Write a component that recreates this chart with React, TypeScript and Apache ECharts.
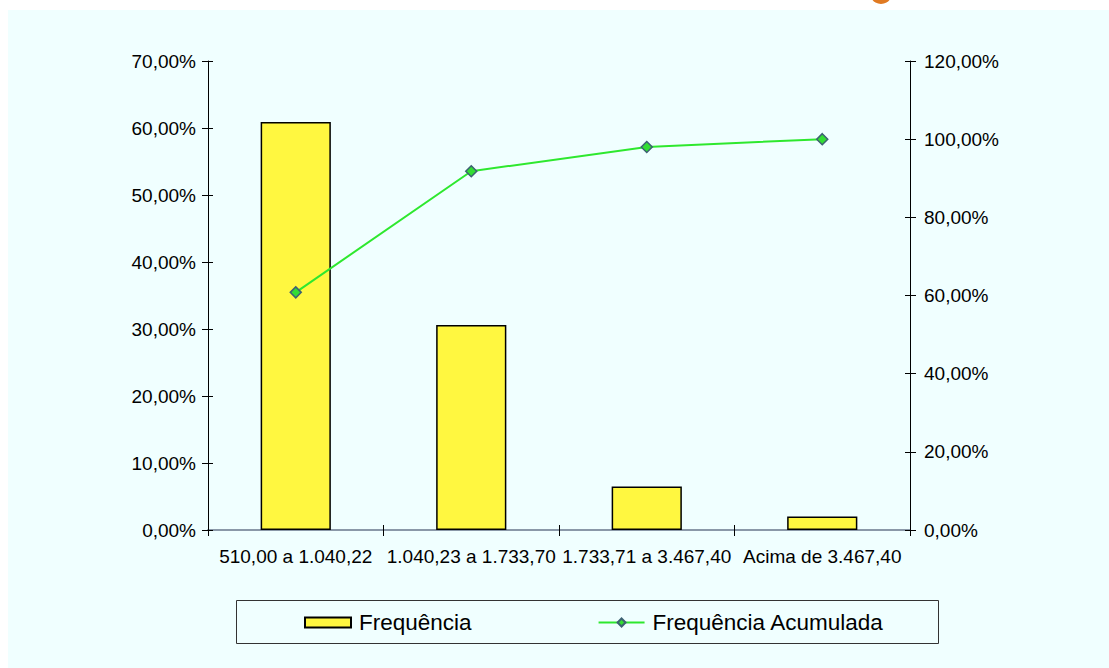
import React, { useEffect, useRef } from "react";
import * as echarts from "echarts";

const categories = ["510,00 a 1.040,22", "1.040,23 a 1.733,70", "1.733,71 a 3.467,40", "Acima de 3.467,40"];
const frequencia = [60.9, 30.6, 6.5, 2.0];
const acumulada = [60.8, 91.8, 98.0, 100.0];
const leftTicks = { min: 0, max: 70, interval: 10 };
const rightTicks = { min: 0, max: 120, interval: 20 };
const seriesNames = ["Frequência", "Frequência Acumulada"];

const FONT = "'Liberation Sans', Arial, Helvetica, sans-serif";
const fmt = (v: number) => v.toFixed(2).replace(".", ",") + "%";

export default function App() {
  const ref = useRef<HTMLDivElement>(null);
  useEffect(() => {
    if (!ref.current) return;
    const chart = echarts.init(ref.current, undefined, { renderer: "svg" });
    const black = "#000000";
    const labelStyle = { color: black, fontFamily: FONT, fontSize: 19 };
    chart.setOption({
      animation: false,
      backgroundColor: "#ffffff",
      textStyle: { fontFamily: FONT },
      graphic: [
        { type: "rect", shape: { x: 8, y: 10, width: 1101, height: 658 }, style: { fill: "#f0ffff" }, z: -10, silent: true },
        { type: "circle", shape: { cx: 881, cy: -7, r: 11 }, style: { fill: "#e07a22" }, z: -5, silent: true },
        { type: "rect", shape: { x: 236.5, y: 600.5, width: 702, height: 43 }, style: { fill: "none", stroke: "#333333", lineWidth: 1 }, z: 1, silent: true },
      ],
      grid: { left: 208, right: 199, top: 61, bottom: 138, containLabel: false },
      legend: {
        left: 304,
        top: 611,
        padding: 0,
        itemWidth: 46,
        itemHeight: 10,
        itemGap: 126,
        textStyle: { color: black, fontFamily: FONT, fontSize: 22.5, padding: [0, 0, 0, 3] },
        data: [
          { name: seriesNames[0], icon: "rect" },
          { name: seriesNames[1] },
        ],
      },
      xAxis: [
        {
          type: "category",
          data: categories,
          position: "bottom",
          boundaryGap: true,
          axisLine: { lineStyle: { color: black, width: 1 } },
          axisTick: { show: true, length: 6, lineStyle: { color: black } },
          axisLabel: { ...labelStyle, interval: 0, margin: 17 },
          splitLine: { show: false },
        },
        {
          type: "category",
          data: categories,
          position: "bottom",
          boundaryGap: true,
          axisLine: { show: false },
          axisTick: { show: true, inside: true, length: 5, lineStyle: { color: black } },
          axisLabel: { show: false },
          splitLine: { show: false },
        },
        {
          type: "category",
          data: categories,
          position: "top",
          axisLine: { lineStyle: { color: "#8a98a8", width: 2 } },
          axisTick: { show: false },
          axisLabel: { show: false },
          splitLine: { show: false },
        },
      ],
      yAxis: [
        {
          type: "value",
          position: "left",
          ...leftTicks,
          axisLine: { show: true, lineStyle: { color: black } },
          axisTick: { show: true, length: 6, lineStyle: { color: black } },
          axisLabel: { ...labelStyle, margin: 12, formatter: fmt },
          splitLine: { show: false },
        },
        {
          type: "value",
          position: "right",
          ...rightTicks,
          axisLine: { show: true, lineStyle: { color: black } },
          axisTick: { show: true, length: 6, lineStyle: { color: black } },
          axisLabel: { ...labelStyle, margin: 14, formatter: fmt },
          splitLine: { show: false },
        },
        {
          type: "value",
          position: "left",
          ...leftTicks,
          axisLine: { show: false },
          axisTick: { show: true, inside: true, length: 5, lineStyle: { color: black } },
          axisLabel: { show: false },
          splitLine: { show: false },
        },
        {
          type: "value",
          position: "right",
          ...rightTicks,
          axisLine: { show: false },
          axisTick: { show: true, inside: true, length: 5, lineStyle: { color: black } },
          axisLabel: { show: false },
          splitLine: { show: false },
        },
      ],
      series: [
        {
          name: seriesNames[0],
          type: "bar",
          xAxisIndex: 0,
          yAxisIndex: 0,
          data: frequencia,
          barWidth: "40%",
          itemStyle: { color: "#fff740", borderColor: black, borderWidth: 1.5 },
          z: 2,
        },
        {
          name: seriesNames[1],
          type: "line",
          xAxisIndex: 0,
          yAxisIndex: 1,
          data: acumulada,
          symbol: "diamond",
          symbolSize: 11,
          lineStyle: { color: "#2ee82e", width: 2 },
          itemStyle: { color: "#33dd33", borderColor: "#3d6272", borderWidth: 1.5 },
          z: 3,
        },
      ],
    });
    return () => chart.dispose();
  }, []);
  return (
    <div
      ref={ref}
      style={{ position: "absolute", left: 0, top: 0, width: 1109, height: 668 }}
    />
  );
}
